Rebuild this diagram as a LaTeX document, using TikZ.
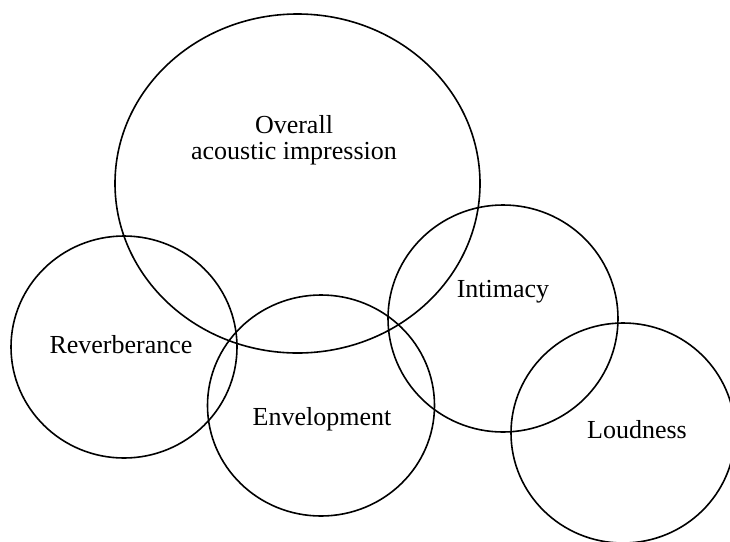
\documentclass[tikz,border=0pt]{standalone}
\usepackage{fontspec}
\setmainfont{Liberation Serif}
\begin{document}
\begin{tikzpicture}[x=1pt,y=-1pt,
  ring/.style={draw=black,line width=1.6pt},
  lbl/.style={font=\fontsize{26}{26}\selectfont,inner sep=0pt,align=center}]
\useasboundingbox (0,0) rectangle (730,541);
% overlapping attribute regions
\draw[ring] (297.5,183.5) ellipse [x radius=182.5, y radius=169.5];
\draw[ring] (124,347) ellipse [x radius=113, y radius=111];
\draw[ring] (321,405.5) ellipse [x radius=113.5, y radius=110.5];
\draw[ring] (503,318.5) ellipse [x radius=115, y radius=113.5];
\draw[ring] (623,433) ellipse [x radius=112, y radius=110];
% labels
\node[lbl,anchor=base] (ov) at (294,159) {Overall\\acoustic impression};
\node[lbl,anchor=base] (rv) at (121,353) {Reverberance};
\node[lbl,anchor=base] (en) at (322,425) {Envelopment};
\node[lbl,anchor=base] (im) at (503,297) {Intimacy};
\node[lbl,anchor=base] (ld) at (637,438) {Loudness};
\end{tikzpicture}
\end{document}
